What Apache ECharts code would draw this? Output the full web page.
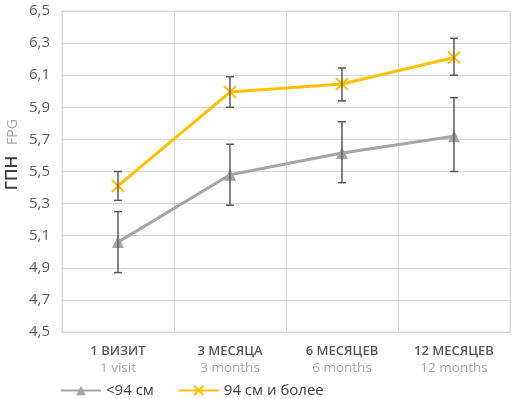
<!DOCTYPE html>
<html>
<head>
<meta charset="utf-8">
<script src="https://cdn.jsdelivr.net/npm/echarts@6/dist/echarts.min.js"></script>
<style>
  html, body { margin: 0; padding: 0; background: #fff; }
  #chart { width: 519px; height: 399px; }
</style>
</head>
<body>
<div id="chart"></div>
<script>
const categoriesRu = ['1 ВИЗИТ', '3 МЕСЯЦА', '6 МЕСЯЦЕВ', '12 МЕСЯЦЕВ']
const categoriesEn = ['1 visit', '3 months', '6 months', '12 months']

const lowName = '<94 см'
const lowMean = [5.06, 5.48, 5.615, 5.72]
const lowMin = [4.87, 5.29, 5.43, 5.50]
const lowMax = [5.25, 5.67, 5.81, 5.96]

const highName = '94 см и более'
const highMean = [5.41, 5.995, 6.045, 6.21]
const highMin = [5.32, 5.90, 5.94, 6.10]
const highMax = [5.50, 6.09, 6.145, 6.33]

const yTicks = { min: 4.5, max: 6.5, step: 0.2 }
const yTitleRu = 'ГПН'
const yTitleEn = 'FPG'

const FONT = 'Open Sans'
const chart = echarts.init(document.getElementById('chart'))

// строим данные для планок погрешностей
const errRows = (mins, maxs) => mins.map((v, i) => [i, v, maxs[i]])

function renderErrorBar(params, api) {
  const x = api.value(0)
  const lo = api.coord([x, api.value(1)])
  const hi = api.coord([x, api.value(2)])
  const cap = 4
  const style = { stroke: '#595959', lineWidth: 1.5 }
  return {
    type: 'group',
    children: [
      { type: 'line', shape: { x1: lo[0], y1: lo[1], x2: hi[0], y2: hi[1] }, style },
      { type: 'line', shape: { x1: lo[0] - cap, y1: lo[1], x2: lo[0] + cap, y2: lo[1] }, style },
      { type: 'line', shape: { x1: hi[0] - cap, y1: hi[1], x2: hi[0] + cap, y2: hi[1] }, style },
    ],
  }
}

chart.setOption({
  animation: false,
  textStyle: { fontFamily: FONT },
  grid: {
    left: 62, right: 9, top: 11, bottom: 67,
    outerBoundsMode: 'none',
    show: true, borderColor: '#d9d9d9', borderWidth: 1,
  },
  // подпись оси Y: два повёрнутых текста
  graphic: [
    {
      type: 'text', x: 12, y: 173, rotation: Math.PI / 2,
      style: { text: yTitleRu, align: 'center', verticalAlign: 'middle', fontFamily: FONT, fontSize: 17, fontWeight: 600, fill: '#404040' },
    },
    {
      type: 'text', x: 13, y: 132, rotation: Math.PI / 2,
      style: { text: yTitleEn, align: 'center', verticalAlign: 'middle', fontFamily: FONT, fontSize: 14, fill: '#a6a6a6' },
    },
  ],
  legend: {
    data: [lowName, highName],
    left: 60,
    top: 383,
    padding: 0,
    itemWidth: 40,
    itemHeight: 12,
    itemGap: 24,
    textStyle: { fontFamily: FONT, fontSize: 15, color: '#404040' },
  },
  xAxis: {
    type: 'category',
    data: categoriesRu,
    axisLine: { show: true, lineStyle: { color: '#d9d9d9' } },
    axisTick: { show: false },
    splitLine: { show: true, interval: 0, lineStyle: { color: '#d9d9d9' } },
    axisLabel: {
      interval: 0,
      margin: 11,
      formatter: (v, i) => `{a|${v}}\n{b|${categoriesEn[i]}}`,
      rich: {
        a: { fontFamily: FONT, fontSize: 13, fontWeight: 600, color: '#595959', lineHeight: 17 },
        b: { fontFamily: FONT, fontSize: 13.5, color: '#a6a6a6', lineHeight: 17 },
      },
    },
  },
  yAxis: {
    type: 'value',
    min: yTicks.min,
    max: yTicks.max,
    interval: yTicks.step,
    axisLine: { show: false },
    axisTick: { show: false },
    splitLine: { lineStyle: { color: '#d9d9d9' } },
    axisLabel: {
      margin: 12,
      fontSize: 15,
      color: '#595959',
      formatter: (v) => v.toFixed(1).replace('.', ','),
    },
  },
  series: [
    {
      name: lowName,
      type: 'line',
      data: lowMean,
      symbol: 'triangle',
      symbolSize: 12,
      lineStyle: { color: '#a5a5a5', width: 3 },
      itemStyle: { color: '#a5a5a5' },
      z: 3,
    },
    {
      name: highName,
      type: 'line',
      data: highMean,
      symbol: 'path://M0,0L10,10M10,0L0,10',
      symbolSize: 12,
      lineStyle: { color: '#ffc000', width: 3 },
      itemStyle: { color: '#ffc000', borderColor: '#ffc000', borderWidth: 2 },
      z: 3,
    },
    {
      type: 'custom',
      renderItem: renderErrorBar,
      data: errRows(lowMin, lowMax),
      encode: { x: 0, y: [1, 2] },
      z: 4,
    },
    {
      type: 'custom',
      renderItem: renderErrorBar,
      data: errRows(highMin, highMax),
      encode: { x: 0, y: [1, 2] },
      z: 4,
    },
  ],
})
</script>
</body>
</html>
